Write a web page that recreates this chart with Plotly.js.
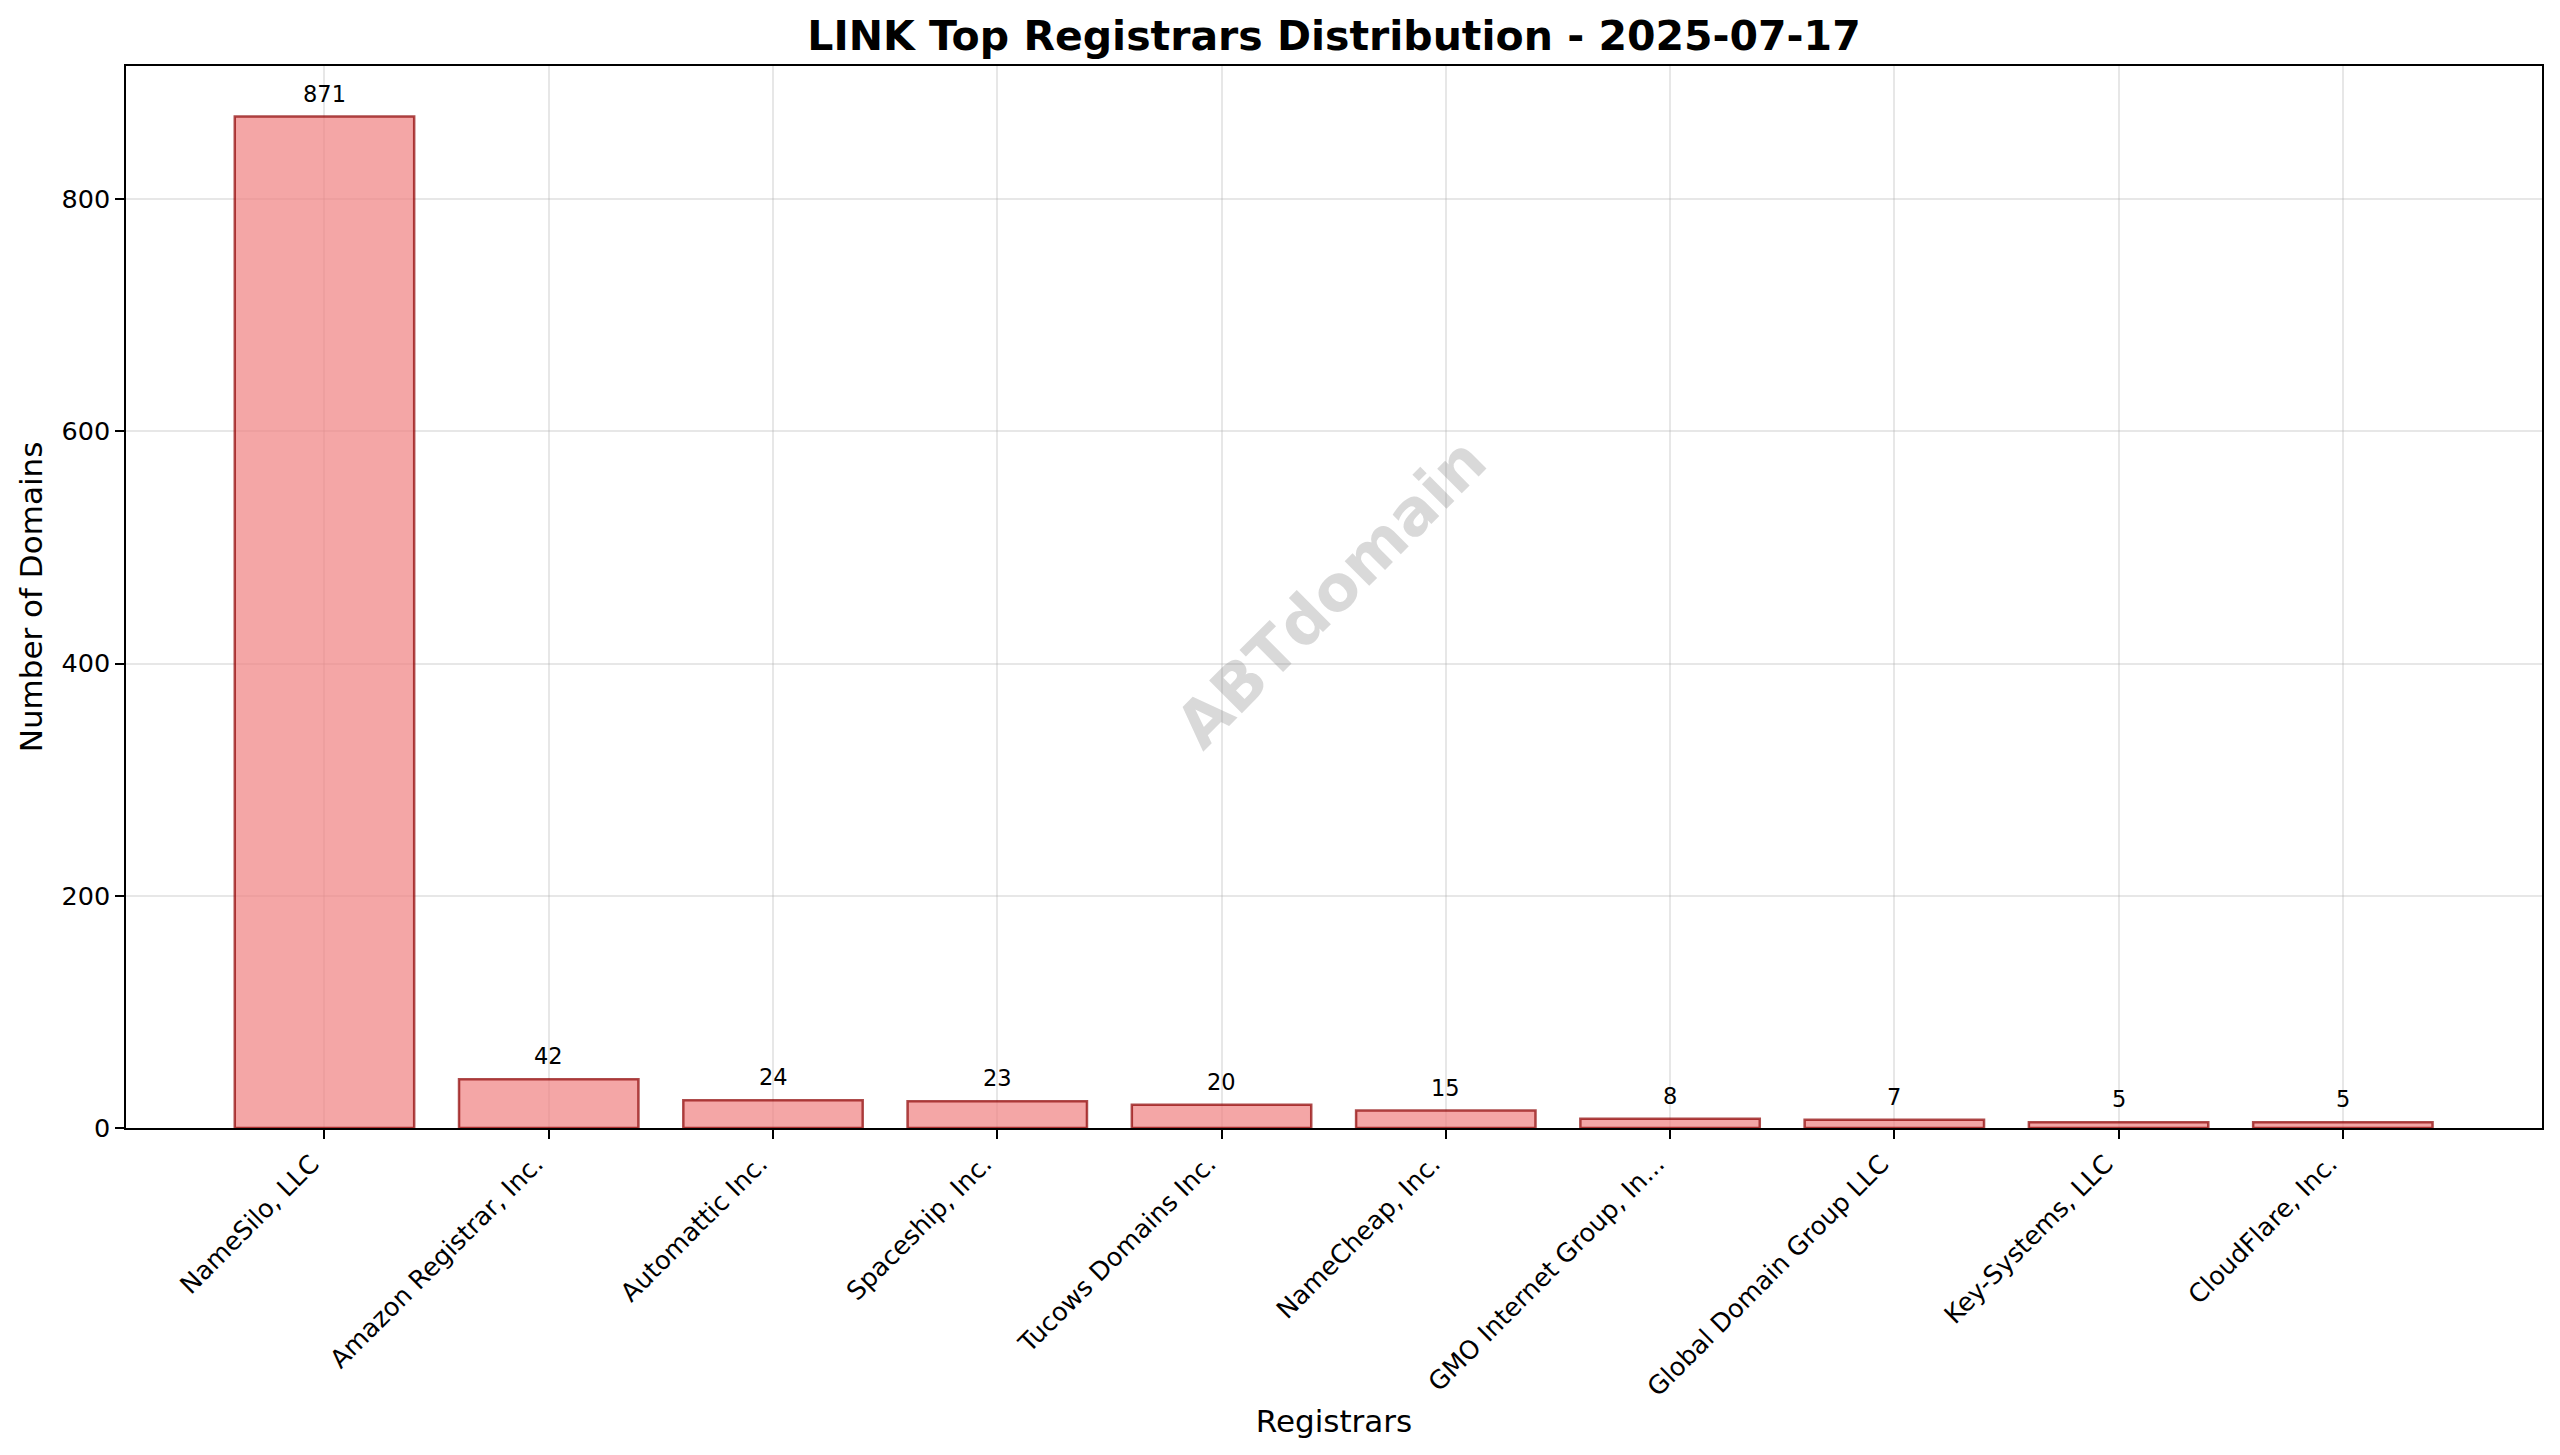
<!DOCTYPE html>
<html>
<head>
<meta charset="utf-8">
<script src="https://cdn.plot.ly/plotly-3.0.1.min.js"></script>
<style>html,body{margin:0;padding:0;background:#fff}#chart{width:2560px;height:1455px}</style>
</head>
<body>
<div id="chart"></div>
<script>
const registrars = ["NameSilo, LLC","Amazon Registrar, Inc.","Automattic Inc.","Spaceship, Inc.","Tucows Domains Inc.","NameCheap, Inc.","GMO Internet Group, In...","Global Domain Group LLC","Key-Systems, LLC","CloudFlare, Inc."];
const domainCounts = [871,42,24,23,20,15,8,7,5,5];
const yTicks = [0,200,400,600,800];
const titleText = "LINK Top Registrars Distribution - 2025-07-17";
const watermarkText = "ABTdomain";
const fontFamily = "DejaVu Sans";

const positions = registrars.map((_, i) => i);

const valueLabels = domainCounts.map((v, i) => ({
  x: i, y: v, xref: "x", yref: "y", text: String(v), showarrow: false,
  xanchor: "center", yanchor: "bottom", yshift: 8,
  font: {family: fontFamily, size: 22.5, color: "#000"}
}));

const data = [{
  type: "bar",
  x: positions,
  y: domainCounts,
  width: 0.8,
  marker: {color: "rgba(240,128,128,0.7)", line: {color: "rgba(139,0,0,0.7)", width: 2.5}},
  hoverinfo: "x+y"
}];

const layout = {
  width: 2560, height: 1455,
  paper_bgcolor: "#fff", plot_bgcolor: "#fff",
  showlegend: false,
  margin: {l: 126, r: 18, t: 66, b: 326.5, pad: 0},
  font: {family: fontFamily, color: "#000"},
  title: {text: "<b>" + titleText + "</b>", font: {family: fontFamily, size: 41, color: "#000"},
          x: 0.5211, xref: "container", xanchor: "center", y: 0.9752, yref: "container", yanchor: "middle"},
  xaxis: {
    range: [-0.885, 9.888], tickmode: "array", tickvals: positions, ticktext: registrars,
    tickangle: -45, tickfont: {family: fontFamily, size: 25.5, color: "#000"},
    ticklabelshift: -13,
    ticks: "outside", ticklen: 8.75, tickwidth: 2, tickcolor: "#000",
    showline: true, linecolor: "#000", linewidth: 2, mirror: true,
    showgrid: true, gridcolor: "rgba(176,176,176,0.3)", gridwidth: 2, zeroline: false,
    automargin: false,
    title: {text: "Registrars", font: {family: fontFamily, size: 31, color: "#000"}, standoff: 9}
  },
  yaxis: {
    range: [0, 914.55], tickmode: "array", tickvals: yTicks, ticktext: yTicks.map(String),
    tickfont: {family: fontFamily, size: 25.5, color: "#000"},
    ticks: "outside", ticklen: 8.75, tickwidth: 2, tickcolor: "#000",
    showline: true, linecolor: "#000", linewidth: 2, mirror: true,
    showgrid: true, gridcolor: "rgba(176,176,176,0.3)", gridwidth: 2, zeroline: false,
    automargin: false,
    title: {text: "Number of Domains", font: {family: fontFamily, size: 31, color: "#000"}, standoff: 10}
  },
  annotations: valueLabels.concat([{
    x: 0.5, y: 0.5, xref: "paper", yref: "paper", text: "<b>" + watermarkText + "</b>",
    showarrow: false, textangle: -45, xanchor: "center", yanchor: "middle", xshift: -3, yshift: 4,
    font: {family: fontFamily, size: 63.5, color: "rgba(128,128,128,0.3)"}
  }])
};

Plotly.newPlot("chart", data, layout, {displayModeBar: false, responsive: false});
</script>
</body>
</html>
